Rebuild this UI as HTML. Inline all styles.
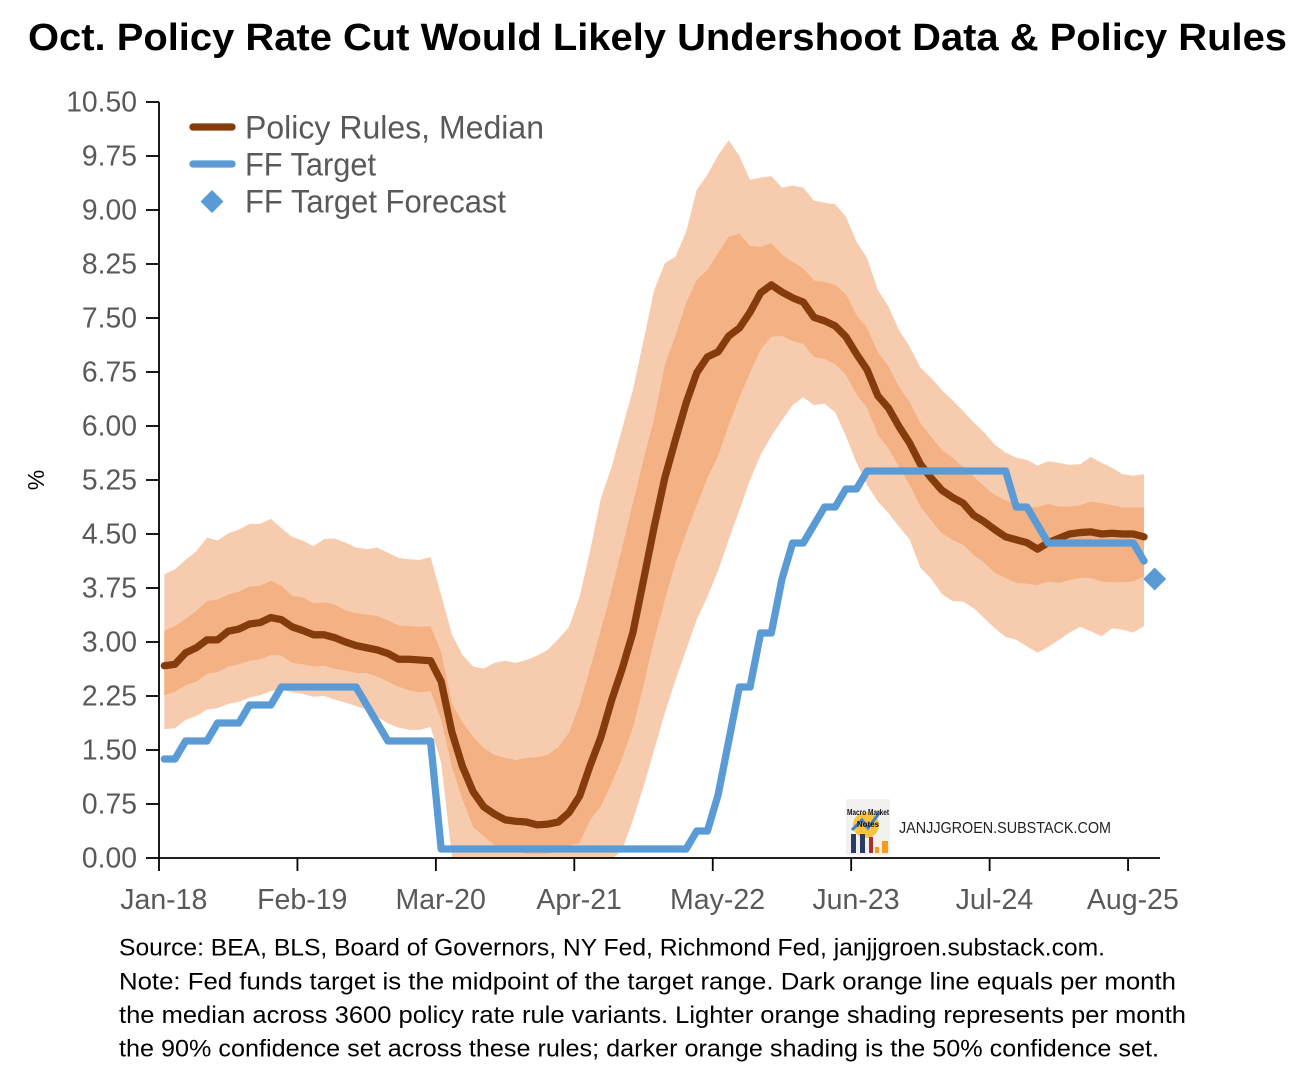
<!DOCTYPE html>
<html lang="en">
<head>
<meta charset="utf-8">
<title>Oct. Policy Rate Cut Would Likely Undershoot Data &amp; Policy Rules</title>
<style>
html,body{margin:0;padding:0;background:#fff;}
svg{display:block;}
text{font-family:"Liberation Sans",sans-serif;}
</style>
</head>
<body>
<svg id="chart" width="1311" height="1080" viewBox="0 0 1311 1080" xmlns="http://www.w3.org/2000/svg">
<defs>
<clipPath id="plot-clip"><rect x="159" y="90" width="1001" height="768"/></clipPath>
</defs>
<rect x="0" y="0" width="1311" height="1080" fill="#ffffff"/>
<text x="28" y="50" font-size="38" font-weight="700" fill="#000" textLength="1259" lengthAdjust="spacingAndGlyphs">Oct. Policy Rate Cut Would Likely Undershoot Data &amp; Policy Rules</text>
<g id="bands" clip-path="url(#plot-clip)"></g>
<g id="series"></g>
<g id="axes"></g>
<text transform="translate(44,480) rotate(-90)" text-anchor="middle" font-size="23" fill="#000">%</text>
<g>
<line x1="193" y1="127" x2="232" y2="127" stroke="#843C0C" stroke-width="7.3" stroke-linecap="round"/>
<text x="245" y="138.5" font-size="32" fill="#595959" textLength="299" lengthAdjust="spacingAndGlyphs">Policy Rules, Median</text>
<line x1="193" y1="164" x2="232" y2="164" stroke="#5B9BD5" stroke-width="7.3" stroke-linecap="round"/>
<text x="245" y="175.5" font-size="32" fill="#595959" textLength="131" lengthAdjust="spacingAndGlyphs">FF Target</text>
<polygon points="212,190 223.5,201.5 212,213 200.5,201.5" fill="#5B9BD5"/>
<text x="245" y="212.5" font-size="32" fill="#595959" textLength="261" lengthAdjust="spacingAndGlyphs">FF Target Forecast</text>
</g>
<g>
<rect x="846" y="799" width="44" height="56" rx="2" fill="#f2f1ee"/>
<circle cx="866" cy="825" r="13" fill="#f9c23c"/>
<path d="M852 830 L862 820 L868 828 L880 812" fill="none" stroke="#3f7fd0" stroke-width="3"/>
<text x="868" y="815" font-size="8" font-weight="700" text-anchor="middle" fill="#111" textLength="42" lengthAdjust="spacingAndGlyphs">Macro Market</text>
<text x="868" y="827" font-size="8" font-weight="700" text-anchor="middle" fill="#111">Notes</text>
<rect x="851" y="834" width="5" height="19" fill="#2b3a67"/>
<rect x="860" y="834" width="5" height="19" fill="#2b3a67"/>
<rect x="869" y="837" width="4" height="16" fill="#a8322a"/>
<rect x="875" y="847" width="4" height="6" fill="#f79a1e"/>
<rect x="882" y="841" width="6" height="12" fill="#f79a1e"/>
<text x="899" y="833" font-size="15.5" fill="#222" textLength="212" lengthAdjust="spacingAndGlyphs">JANJJGROEN.SUBSTACK.COM</text>
</g>
<g font-size="24.5" fill="#000">
<text x="119" y="955.5" textLength="986" lengthAdjust="spacingAndGlyphs">Source: BEA, BLS, Board of Governors, NY Fed, Richmond Fed, janjjgroen.substack.com.</text>
<text x="119" y="989.5" textLength="1057" lengthAdjust="spacingAndGlyphs">Note: Fed funds target is the midpoint of the target range. Dark orange line equals per month</text>
<text x="119" y="1023" textLength="1067" lengthAdjust="spacingAndGlyphs">the median across 3600 policy rate rule variants. Lighter orange shading represents per month</text>
<text x="119" y="1056.5" textLength="1040" lengthAdjust="spacingAndGlyphs">the 90% confidence set across these rules; darker orange shading is the 50% confidence set.</text>
</g>
</svg>
<script>
const categoryCount = 94;
const xTickLabels = ['Jan-18','Feb-19','Mar-20','Apr-21','May-22','Jun-23','Jul-24','Aug-25'];
const xTickEvery = 13;
const yTickValues = [0,0.75,1.5,2.25,3,3.75,4.5,5.25,6,6.75,7.5,8.25,9,9.75,10.5];
const median = [
2.67,2.69,2.85,2.92,3.03,3.03,3.15,3.18,3.25,3.27,
3.34,3.31,3.21,3.16,3.10,3.10,3.06,3.00,2.95,2.92,
2.89,2.84,2.76,2.76,2.75,2.74,2.45,1.75,1.27,0.92,
0.71,0.61,0.53,0.51,0.50,0.46,0.47,0.50,0.63,0.86,
1.29,1.68,2.19,2.63,3.13,3.86,4.60,5.28,5.81,6.32,
6.74,6.96,7.03,7.25,7.36,7.58,7.85,7.96,7.86,7.78,
7.72,7.51,7.46,7.39,7.24,7.00,6.78,6.42,6.25,5.99,
5.76,5.47,5.28,5.11,5.01,4.93,4.76,4.67,4.56,4.46,
4.42,4.38,4.29,4.38,4.44,4.50,4.52,4.53,4.50,4.51,
4.50,4.50,4.46];
const ffTarget = [
1.375,1.375,1.625,1.625,1.625,1.875,1.875,1.875,2.125,2.125,
2.125,2.375,2.375,2.375,2.375,2.375,2.375,2.375,2.375,2.125,
1.875,1.625,1.625,1.625,1.625,1.625,0.125,0.125,0.125,0.125,
0.125,0.125,0.125,0.125,0.125,0.125,0.125,0.125,0.125,0.125,
0.125,0.125,0.125,0.125,0.125,0.125,0.125,0.125,0.125,0.125,
0.375,0.375,0.875,1.625,2.375,2.375,3.125,3.125,3.875,4.375,
4.375,4.625,4.875,4.875,5.125,5.125,5.375,5.375,5.375,5.375,
5.375,5.375,5.375,5.375,5.375,5.375,5.375,5.375,5.375,5.375,
4.875,4.875,4.625,4.375,4.375,4.375,4.375,4.375,4.375,4.375,
4.375,4.375,4.125];
const forecastIndex = [93];
const forecastValue = [3.875];
const upper90 = [
3.94,4.01,4.14,4.26,4.45,4.41,4.51,4.56,4.64,4.64,
4.71,4.58,4.46,4.41,4.33,4.43,4.44,4.38,4.31,4.29,
4.31,4.24,4.17,4.15,4.14,4.18,3.65,3.11,2.82,2.66,
2.63,2.71,2.74,2.71,2.75,2.81,2.89,3.04,3.21,3.63,
4.28,5.00,5.43,5.97,6.50,7.19,7.89,8.26,8.35,8.70,
9.28,9.49,9.76,9.97,9.75,9.42,9.45,9.47,9.31,9.34,
9.31,9.13,9.10,9.08,8.91,8.56,8.33,7.89,7.66,7.33,
7.10,6.81,6.67,6.50,6.36,6.21,6.05,5.91,5.74,5.63,
5.56,5.53,5.45,5.51,5.49,5.46,5.47,5.57,5.49,5.42,
5.33,5.31,5.33];
const upper50 = [
3.16,3.22,3.32,3.43,3.57,3.59,3.66,3.70,3.77,3.78,
3.85,3.78,3.64,3.62,3.54,3.55,3.52,3.44,3.40,3.38,
3.36,3.30,3.23,3.22,3.21,3.22,2.86,2.15,1.88,1.68,
1.53,1.43,1.39,1.36,1.39,1.40,1.43,1.54,1.74,2.13,
2.64,3.17,3.72,4.32,4.93,5.53,6.11,6.85,7.26,7.71,
8.03,8.17,8.40,8.63,8.67,8.50,8.49,8.54,8.38,8.28,
8.19,8.02,8.00,7.96,7.83,7.54,7.36,7.03,6.83,6.54,
6.33,6.04,5.85,5.67,5.56,5.43,5.30,5.16,5.04,4.97,
4.92,4.88,4.87,4.92,4.88,4.88,4.90,4.95,4.93,4.90,
4.87,4.87,4.87];
const lower50 = [
2.26,2.31,2.40,2.45,2.56,2.58,2.66,2.69,2.74,2.76,
2.82,2.81,2.71,2.69,2.66,2.67,2.63,2.60,2.57,2.57,
2.52,2.45,2.38,2.33,2.30,2.32,1.92,1.27,0.81,0.43,
0.30,0.18,0.14,0.09,0.06,0.06,0.06,0.09,0.17,0.21,
0.53,0.72,1.04,1.39,1.81,2.40,3.03,3.58,4.10,4.51,
4.90,5.28,5.58,6.01,6.40,6.74,7.06,7.24,7.25,7.18,
7.14,6.96,6.93,6.86,6.71,6.44,6.25,5.88,5.69,5.43,
5.18,4.88,4.69,4.51,4.42,4.35,4.21,4.10,3.96,3.89,
3.82,3.81,3.79,3.84,3.82,3.86,3.89,3.89,3.84,3.83,
3.83,3.84,3.91];
const lower90 = [
1.79,1.80,1.92,1.97,2.06,2.08,2.14,2.17,2.23,2.26,
2.32,2.34,2.30,2.28,2.24,2.25,2.20,2.16,2.11,2.06,
1.96,1.87,1.81,1.78,1.78,1.82,1.32,0.03,-0.35,-0.50,
-0.60,-0.65,-0.70,-0.70,-0.70,-0.70,-0.65,-0.60,-0.50,-0.40,
-0.30,-0.20,-0.02,0.11,0.53,0.99,1.50,2.01,2.47,2.89,
3.31,3.63,3.99,4.42,4.83,5.25,5.60,5.86,6.08,6.29,
6.40,6.29,6.31,6.19,5.86,5.49,5.18,4.95,4.79,4.60,
4.42,4.03,3.88,3.67,3.57,3.56,3.47,3.33,3.19,3.07,
3.03,2.94,2.85,2.93,3.03,3.13,3.21,3.15,3.08,3.19,
3.17,3.13,3.22];

const SVG_NS = 'http://www.w3.org/2000/svg';
const plotLeft = 159, plotRight = 1160, plotTop = 102, plotBottom = 858, yMax = 10.5;
const xScale = function (i) { return plotLeft + (i + 0.5) * (plotRight - plotLeft) / categoryCount; };
const xEdge = function (i) { return plotLeft + i * (plotRight - plotLeft) / categoryCount; };
const yScale = function (v) { return plotBottom - v * (plotBottom - plotTop) / yMax; };

function make(tag, attrs, parent) {
  const el = document.createElementNS(SVG_NS, tag);
  for (const k in attrs) el.setAttribute(k, attrs[k]);
  parent.appendChild(el);
  return el;
}
function linePath(values) {
  return values.map(function (v, i) { return (i ? 'L' : 'M') + xScale(i).toFixed(2) + ' ' + yScale(v).toFixed(2); }).join(' ');
}
function bandPath(top, bottom) {
  const up = top.map(function (v, i) { return (i ? 'L' : 'M') + xScale(i).toFixed(2) + ' ' + yScale(v).toFixed(2); }).join(' ');
  const down = bottom.map(function (v, i) { return i; }).reverse().map(function (i) { return 'L' + xScale(i).toFixed(2) + ' ' + yScale(bottom[i]).toFixed(2); }).join(' ');
  return up + ' ' + down + ' Z';
}

const bands = document.getElementById('bands');
const band90 = make('path', { d: bandPath(upper90, lower90), fill: '#F7CCAE' }, bands);


const band50 = make('path', { d: bandPath(upper50, lower50), fill: '#F4B183' }, bands);



const series = document.getElementById('series');
const medianLine = make('path', { d: linePath(median), fill: 'none', stroke: '#843C0C', 'stroke-width': 7.3, 'stroke-linejoin': 'round', 'stroke-linecap': 'round' }, series);


const targetLine = make('path', { d: linePath(ffTarget), fill: 'none', stroke: '#5B9BD5', 'stroke-width': 7.3, 'stroke-linejoin': 'round', 'stroke-linecap': 'round' }, series);


const fx = xScale(forecastIndex[0]), fy = yScale(forecastValue[0]), fr = 11.5;
const forecastMark = make('polygon', { points: fx + ',' + (fy - fr) + ' ' + (fx + fr) + ',' + fy + ' ' + fx + ',' + (fy + fr) + ' ' + (fx - fr) + ',' + fy, fill: '#5B9BD5' }, series);



const axes = document.getElementById('axes');
const yAxisLine = make('line', { x1: plotLeft, y1: plotTop, x2: plotLeft, y2: plotBottom + 1, stroke: '#000', 'stroke-width': 1.8 }, axes);


const xAxisLine = make('line', { x1: plotLeft, y1: plotBottom, x2: plotRight, y2: plotBottom, stroke: '#000', 'stroke-width': 1.8 }, axes);



yTickValues.forEach(function (v) {
  const y = yScale(v);
  const tick = make('line', { x1: plotLeft - 13, y1: y, x2: plotLeft, y2: y, stroke: '#000', 'stroke-width': 1.8 }, axes);
  
  
  const label = make('text', { x: 137, y: y + 9.5, 'text-anchor': 'end', 'font-size': 28.3, fill: '#595959' }, axes);
  
  
  label.textContent = v.toFixed(2);
});

xTickLabels.forEach(function (t, k) {
  const i = k * xTickEvery;
  const tick = make('line', { x1: xEdge(i), y1: plotBottom, x2: xEdge(i), y2: plotBottom + 13, stroke: '#000', 'stroke-width': 1.8 }, axes);
  
  
  const label = make('text', { x: xScale(i) - 0.5, y: 909, 'text-anchor': 'middle', 'font-size': 28.5, fill: '#595959' }, axes);
  
  
  label.textContent = t;
});
</script>
</body>
</html>
